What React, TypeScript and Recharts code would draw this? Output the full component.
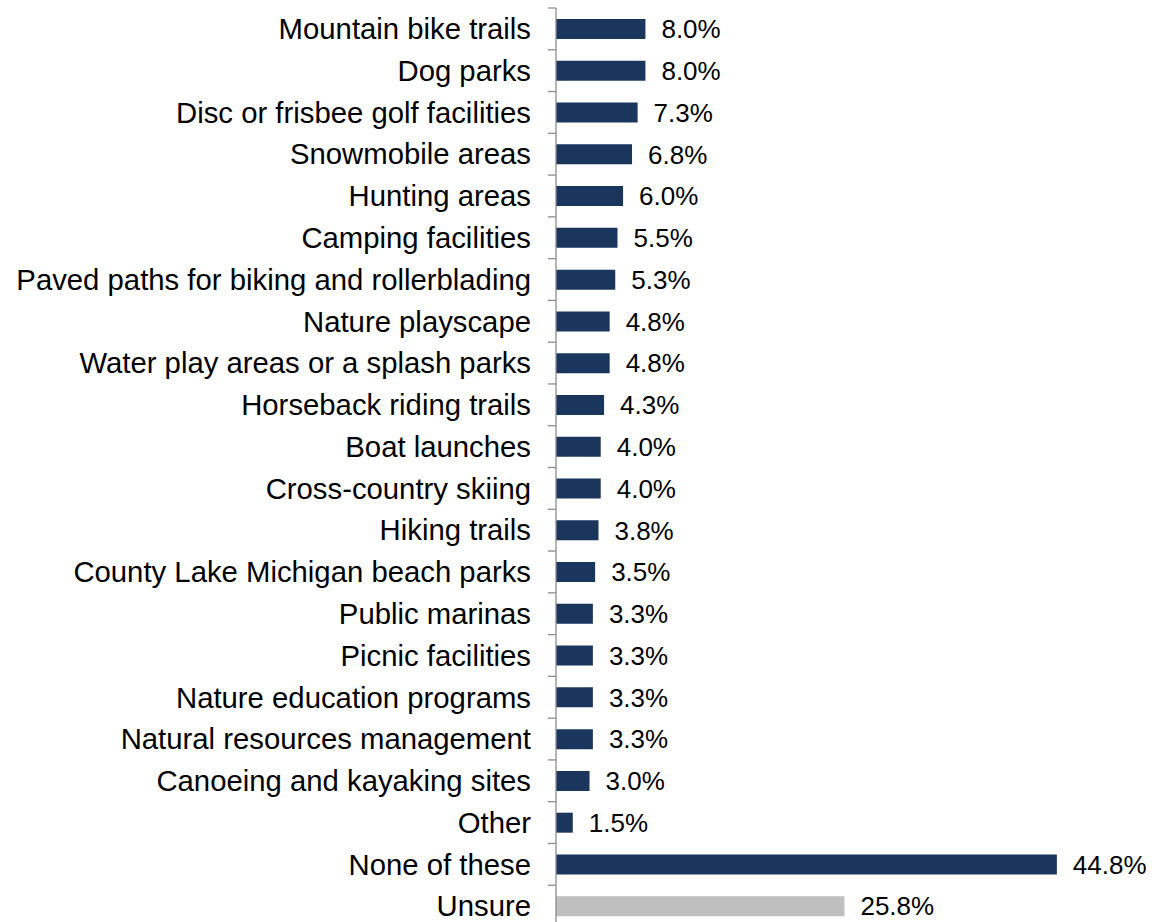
import React from "react";
import { BarChart, Bar, XAxis, YAxis, Cell, LabelList } from "recharts";

const categories = [
  "Mountain bike trails",
  "Dog parks",
  "Disc or frisbee golf facilities",
  "Snowmobile areas",
  "Hunting areas",
  "Camping facilities",
  "Paved paths for biking and rollerblading",
  "Nature playscape",
  "Water play areas or a splash parks",
  "Horseback riding trails",
  "Boat launches",
  "Cross-country skiing",
  "Hiking trails",
  "County Lake Michigan beach parks",
  "Public marinas",
  "Picnic facilities",
  "Nature education programs",
  "Natural resources management",
  "Canoeing and kayaking sites",
  "Other",
  "None of these",
  "Unsure",
];

const values = [
  8.0, 8.0, 7.3, 6.8, 6.0, 5.5, 5.3, 4.8, 4.8, 4.3, 4.0, 4.0, 3.8, 3.5, 3.3,
  3.3, 3.3, 3.3, 3.0, 1.5, 44.8, 25.8,
];

const greyCategories = ["Unsure"];

const NAVY = "#1B365D";
const GREY = "#BFBFBF";
const AXIS = "#8C8C8C";
const FONT = '"Liberation Sans", Arial, sans-serif';

const data = categories.map((name, i) => ({ name, value: values[i] }));

const W = 1152;
const H = 931;
const MARGIN = { top: 8, right: 37, bottom: 4, left: 0 };
const Y_WIDTH = 556;
const BAND = (H - MARGIN.top - MARGIN.bottom) / categories.length;
const TICK_GAP = 8; // distance from tick anchor to axis line

const CategoryTick = (props: any) => {
  const { x, y, payload, index } = props;
  const axisX = x + TICK_GAP;
  return (
    <g>
      <line x1={axisX - 8} x2={axisX} y1={y - BAND / 2} y2={y - BAND / 2} stroke={AXIS} strokeWidth={1.3} />
      {index === categories.length - 1 && (
        <line x1={axisX - 8} x2={axisX} y1={y + BAND / 2} y2={y + BAND / 2} stroke={AXIS} strokeWidth={1.3} />
      )}
      <text
        x={axisX - 25}
        y={y}
        dy="0.35em"
        textAnchor="end"
        fontSize={29.3}
        fontFamily={FONT}
        fill="#000"
      >
        {payload.value}
      </text>
    </g>
  );
};

export default function App() {
  return (
    <div style={{ position: "absolute", left: 0, top: 0, width: W, height: H, background: "#fff" }}>
      <BarChart
        width={W}
        height={H}
        data={data}
        layout="vertical"
        margin={MARGIN}
        barCategoryGap={0}
      >
        <XAxis type="number" domain={[0, 50]} hide />
        <YAxis
          type="category"
          dataKey="name"
          width={Y_WIDTH}
          tickLine={false}
          axisLine={{ stroke: AXIS, strokeWidth: 1.3 }}
          tick={<CategoryTick />}
          interval={0}
        />
        <Bar dataKey="value" barSize={20} isAnimationActive={false}>
          {data.map((d) => (
            <Cell key={d.name} fill={greyCategories.includes(d.name) ? GREY : NAVY} />
          ))}
          <LabelList
            dataKey="value"
            position="right"
            offset={16}
            formatter={(v: any) => `${Number(v).toFixed(1)}%`}
            style={{ fontSize: 26, fontFamily: FONT, fill: "#000" }}
          />
        </Bar>
      </BarChart>
    </div>
  );
}
